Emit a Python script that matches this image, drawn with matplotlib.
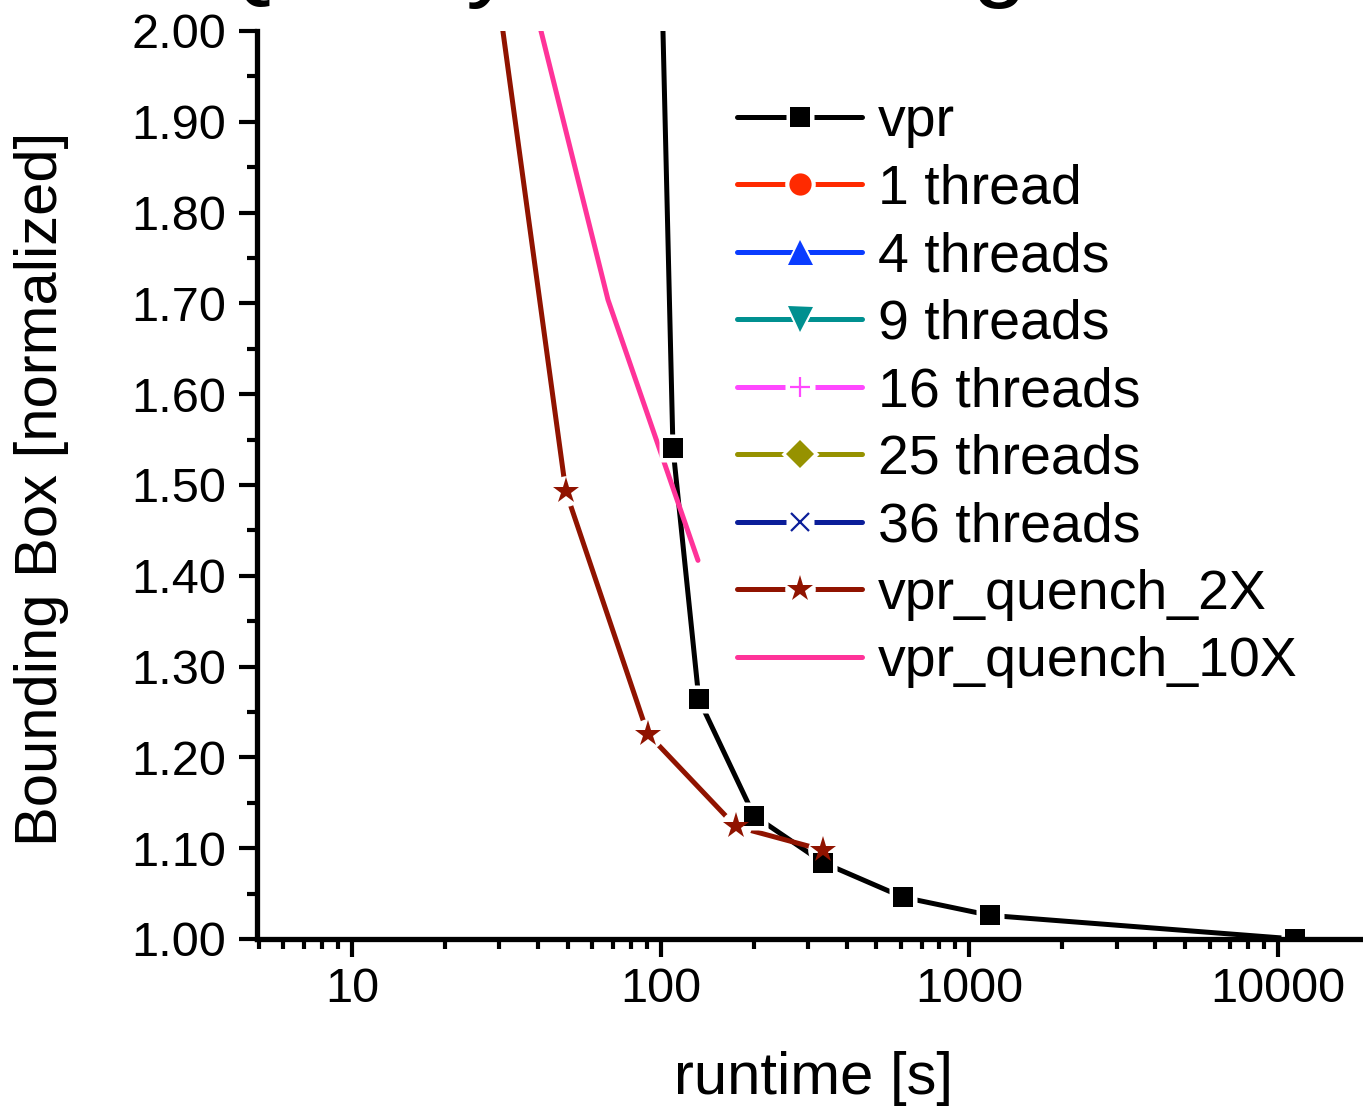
import matplotlib
matplotlib.use('Agg')
import matplotlib.pyplot as plt
from matplotlib.ticker import LogLocator, FixedLocator, MultipleLocator, FuncFormatter, NullFormatter

plt.rcParams['font.family'] = ['Liberation Sans', 'DejaVu Sans']

# --- data (runtime [s], normalized bounding box) ---
vpr_x = [100.1, 109.6, 133.0, 200.5, 336.5, 610.0, 1167.0, 11350.0]
vpr_y = [2.10, 1.541, 1.264, 1.136, 1.084, 1.046, 1.026, 1.000]

q2x_x = [28.1, 49.3, 90.8, 175.0, 335.6]
q2x_y = [2.10, 1.493, 1.226, 1.124, 1.098]

q10x_x = [34.6, 67.5, 132.1]
q10x_y = [2.10, 1.704, 1.417]

# thread series lie outside the plotted window, only in the legend
threads_x = []
threads_y = []

labels = ['vpr', '1 thread', '4 threads', '9 threads', '16 threads',
          '25 threads', '36 threads', 'vpr_quench_2X', 'vpr_quench_10X']
colors = ['#000000', '#ff2a00', '#0a3cff', '#009090', '#ff48ff',
          '#969200', '#0b1e99', '#901300', '#ff3399']

x_ticks = [10, 100, 1000, 10000]

fig = plt.figure(figsize=(13.63, 11.11), dpi=100)
ax = fig.add_axes([257 / 1363, 1 - 939 / 1111, 1 - 257 / 1363, (939 - 31) / 1111])

LW = 3.6


def ser(x, y, color, marker=None, ms=15, gap_marker=None, gap_ms=None, mew=0.0):
    """Origin style: line, white patch to cut a gap, marker on top."""
    parts = ax.plot(x, y, color=color, lw=LW, solid_capstyle='round',
                    solid_joinstyle='round', zorder=2)
    if marker is None:
        return parts[0]
    gap = ax.plot(x, y, ls='none', marker=gap_marker or marker, ms=gap_ms,
                  mfc='white', mec='none', zorder=2.1)
    mk = ax.plot(x, y, ls='none', marker=marker, ms=ms, mfc=color, mec=color,
                 mew=mew, zorder=2.2)
    return (parts[0], gap[0], mk[0])


handles = [
    ser(vpr_x, vpr_y, colors[0], 's', ms=15, gap_ms=20.5),
    ser(threads_x, threads_y, colors[1], 'o', ms=16, gap_ms=22),
    ser(threads_x, threads_y, colors[2], '^', ms=18, gap_ms=25),
    ser(threads_x, threads_y, colors[3], 'v', ms=18, gap_ms=25),
    ser(threads_x, threads_y, colors[4], '+', ms=15, gap_marker='s', gap_ms=21, mew=1.6),
    ser(threads_x, threads_y, colors[5], 'D', ms=14.5, gap_ms=19),
    ser(threads_x, threads_y, colors[6], 'x', ms=13, gap_marker='s', gap_ms=20, mew=1.6),
    ser(q2x_x, q2x_y, colors[7], '*', ms=20, gap_marker='o', gap_ms=22),
    ser(q10x_x, q10x_y, colors[8]),
]

ax.set_xscale('log')
ax.set_xlim(4.925, 18840)
ax.set_ylim(1.0, 2.0)

ax.xaxis.set_major_locator(FixedLocator(x_ticks))
ax.xaxis.set_minor_locator(LogLocator(base=10, subs=range(2, 10), numticks=20))
ax.xaxis.set_major_formatter(FuncFormatter(lambda v, _: f'{v:.0f}'))
ax.xaxis.set_minor_formatter(NullFormatter())
ax.yaxis.set_major_locator(MultipleLocator(0.1))
ax.yaxis.set_minor_locator(MultipleLocator(0.05))
ax.yaxis.set_major_formatter(FuncFormatter(lambda v, _: f'{v:.2f}'))

ax.tick_params(which='major', direction='out', length=13, width=3, labelsize=35, pad=7)
ax.tick_params(which='minor', direction='out', length=7, width=3)
ax.tick_params(axis='y', which='major', pad=9)

ax.spines[['top', 'right']].set_visible(False)
for s in ('left', 'bottom'):
    ax.spines[s].set_linewidth(3.8)
    ax.spines[s].set_zorder(3)

fig.text(42 / 1363, 1 - 489 / 1111, 'Bounding Box [normalized]', rotation=90,
         ha='center', va='center', fontsize=43)
fig.text(813 / 1363, 1 - 1078 / 1111, 'runtime [s]', ha='center', va='center', fontsize=43)

# title sits above the top edge, only the descenders reach into the picture
fig.text(205 / 1363, 1 + 12 / 1111, 'Quality vs. Scaling', ha='left', va='baseline',
         fontsize=72)

fig.legend(handles, labels, loc='upper left', bbox_to_anchor=(737 / 1363, 1 - 96 / 1111),
           frameon=False, fontsize=40, borderpad=0, borderaxespad=0,
           handlelength=2.25, handletextpad=0.28, labelspacing=0.28, numpoints=1)

fig.savefig('out.png', dpi=100)
